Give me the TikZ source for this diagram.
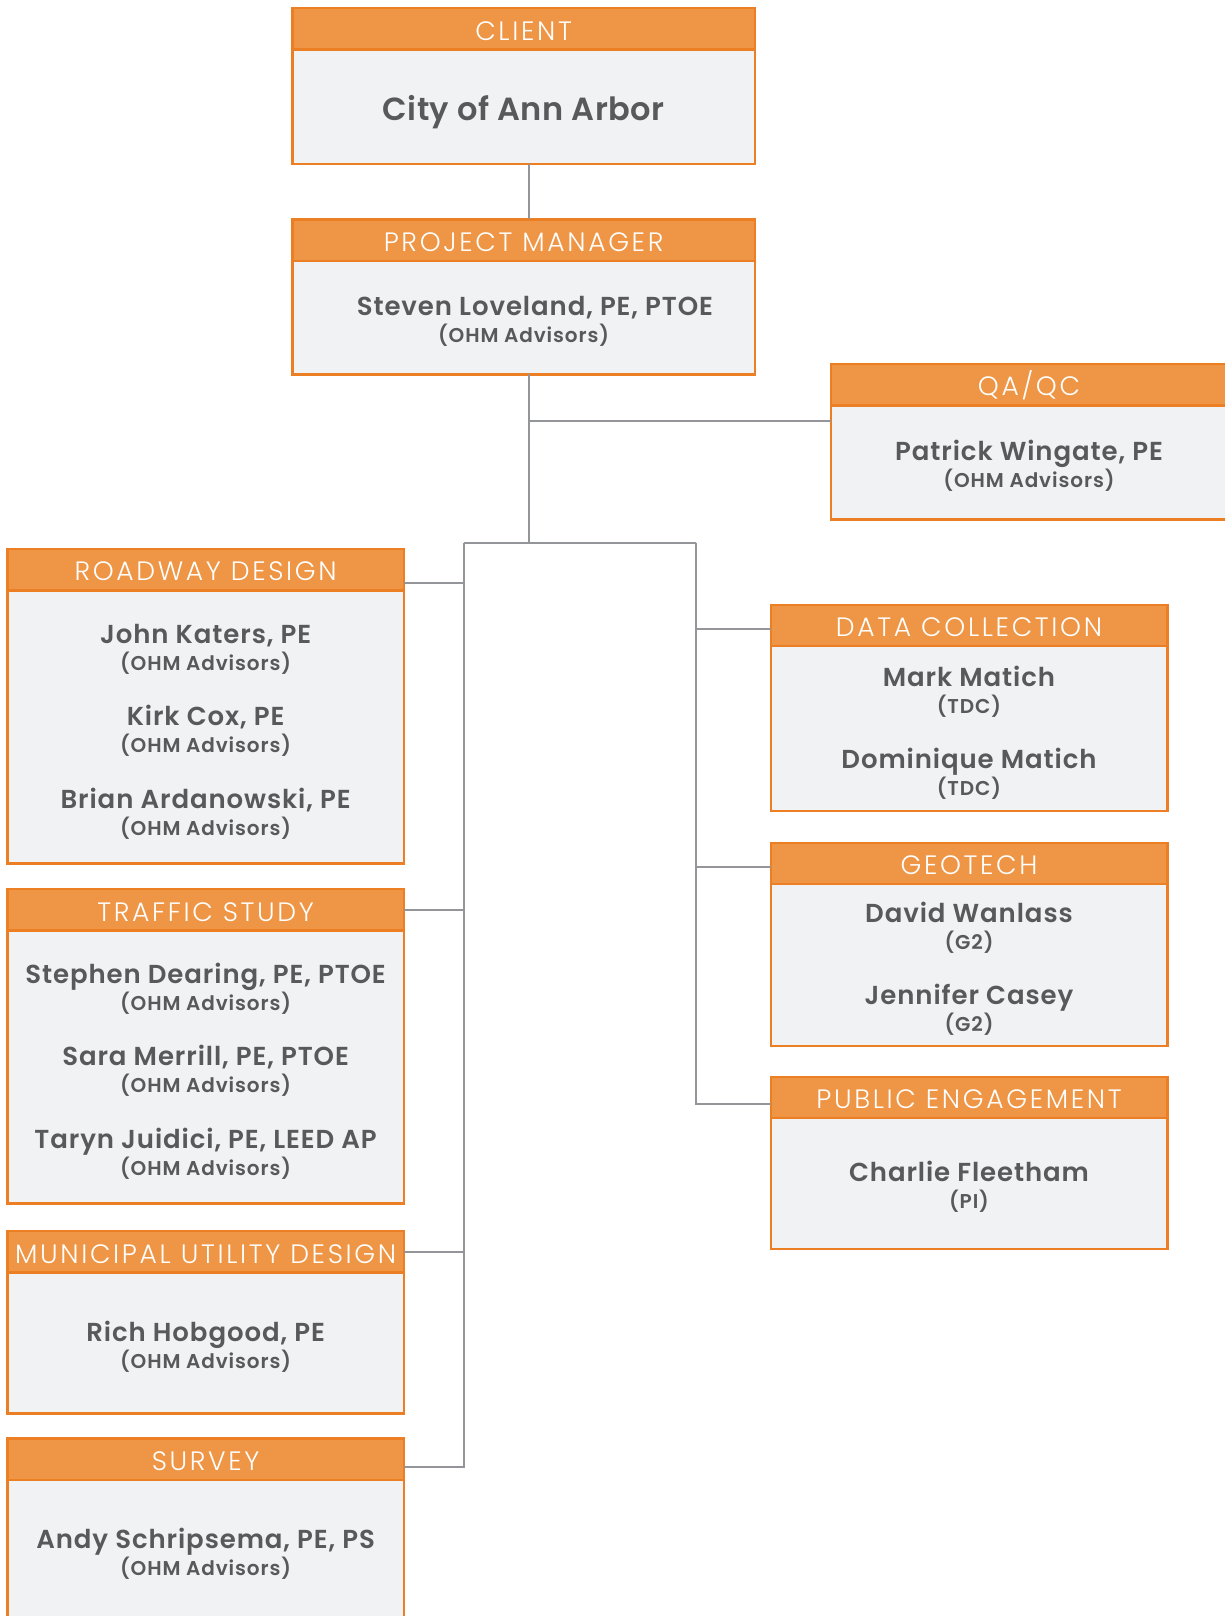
\documentclass[tikz,border=0pt]{standalone}
\usepackage{fontspec}
\setmainfont{Poppins}[BoldFont={Poppins Medium}]
\newfontfamily\headfont{Poppins Light}[LetterSpace=10]
\newfontfamily\namefont{Poppins SemiBold}[LetterSpace=3.5]
\newfontfamily\firmfont{Poppins SemiBold}[LetterSpace=4.5]
\newfontfamily\cityfont{Poppins SemiBold}[LetterSpace=1.5]
\usetikzlibrary{positioning}
\usepackage{xcolor}

\definecolor{ohmorange}{HTML}{EE9646}
\definecolor{ohmedge}{HTML}{EC7E23}
\definecolor{ohmpanel}{HTML}{F1F2F4}
\definecolor{ohmtext}{HTML}{58595B}
\definecolor{ohmline}{HTML}{939598}

% one person: name, then firm in brackets
\newcommand{\person}[2]{#1\\{\firmfont\fontsize{10}{13.5}\selectfont(#2)}}

\begin{document}
\begin{tikzpicture}[x=0.5pt, y=-0.5pt,
      headbox/.style={draw=ohmedge, fill=ohmorange, line width=1.2pt,
        inner sep=0pt, outer sep=0pt, minimum height=20.7pt,
        text height=11.1pt, text depth=0pt,
        anchor=north west, text=white,
        font=\headfont\fontsize{13.3}{13.3}\selectfont},
      bodybox/.style={draw=ohmedge, fill=ohmpanel, line width=1.2pt,
        inner sep=0pt, outer sep=0pt},
      staff/.style={inner sep=0pt, align=center, text=ohmtext,
        font=\namefont\fontsize{13}{13.5}\selectfont},
      topw/.style={minimum width=231.3pt},
      colw/.style={minimum width=198.3pt},
      link/.style={draw=ohmline, line width=1pt},
    ]
    \path[use as bounding box, clip] (0,0) rectangle (1225,1616);

    % Client and project manager
    \node[headbox, topw] (clienthead) at (292.3, 8.3) {CLIENT};
    \node[bodybox, topw, minimum height=57pt, below=0pt of clienthead] (client) {};
    \node[staff, text height=14.2pt, text depth=0pt] (clientname) at (client.center)
      {\cityfont\fontsize{16}{18}\selectfont City of Ann Arbor};
    \node[headbox, topw] (pmhead) at (292.3, 219.3) {PROJECT MANAGER};
    \node[bodybox, topw, minimum height=56.8pt, below=0pt of pmhead] (pm) {};
    \node[staff] (pmnames) at ([yshift=-2pt]pm.center)
      {\hspace*{11.3pt}Steven Loveland, PE, PTOE\\{\firmfont\fontsize{10}{13.5}\selectfont(OHM Advisors)}};

    % QA/QC, off to the right
    \node[headbox, minimum width=198pt] (qahead) at (831, 364) {QA/QC};
    \node[bodybox, minimum width=198pt, minimum height=57pt, below=0pt of qahead] (qa) {};
    \node[staff] (qanames) at ([yshift=-1.8pt]qa.center)
      {\person{Patrick Wingate, PE}{OHM Advisors}};

    % Left column
    \node[headbox, colw] (rdhead) at (7.3, 549) {ROADWAY DESIGN};
    \node[bodybox, colw, minimum height=136.5pt, below=0pt of rdhead] (rd) {};
    \node[staff] (rdnames) at ([yshift=-2.4pt]rd.center)
      {\person{John Katers, PE}{OHM Advisors}\\[14.2pt]
       \person{Kirk Cox, PE}{OHM Advisors}\\[14.2pt]
       \person{Brian Ardanowski, PE}{OHM Advisors}};
    \node[headbox, colw] (tshead) at (7.3, 889.2) {TRAFFIC STUDY};
    \node[bodybox, colw, minimum height=136.5pt, below=0pt of tshead] (ts) {};
    \node[staff] (tsnames) at ([yshift=-2pt]ts.center)
      {\person{Stephen Dearing, PE, PTOE}{OHM Advisors}\\[14.2pt]
       \person{Sara Merrill, PE, PTOE}{OHM Advisors}\\[14.2pt]
       \person{Taryn Juidici, PE, LEED AP}{OHM Advisors}};
    \node[headbox, colw] (muhead) at (7.3, 1231.2) {MUNICIPAL UTILITY DESIGN};
    \node[bodybox, colw, minimum height=70.5pt, below=0pt of muhead] (mu) {};
    \node[staff] (munames) at ([yshift=-2pt]mu.center)
      {\person{Rich Hobgood, PE}{OHM Advisors}};
    \node[headbox, colw] (svhead) at (7.3, 1438.3) {SURVEY};
    \node[bodybox, colw, minimum height=70.5pt, below=0pt of svhead] (sv) {};
    \node[staff] (svnames) at ([yshift=-2pt]sv.center)
      {\person{Andy Schripsema, PE, PS}{OHM Advisors}};

    % Right column
    \node[headbox, colw] (dchead) at (770.7, 604.8) {DATA COLLECTION};
    \node[bodybox, colw, minimum height=82.4pt, below=0pt of dchead] (dc) {};
    \node[staff] (dcnames) at ([yshift=-2pt]dc.center)
      {\person{Mark Matich}{TDC}\\[14.2pt]
       \person{Dominique Matich}{TDC}};
    \node[headbox, colw] (gthead) at (770.7, 842.8) {GEOTECH};
    \node[bodybox, colw, minimum height=80.9pt, below=0pt of gthead] (gt) {};
    \node[staff] (gtnames) at ([yshift=-1.8pt]gt.center)
      {\person{David Wanlass}{G2}\\[14.2pt]
       \person{Jennifer Casey}{G2}};
    \node[headbox, colw] (pehead) at (770.7, 1076.7) {PUBLIC ENGAGEMENT};
    \node[bodybox, colw, minimum height=65.4pt, below=0pt of pehead] (pe) {};
    \node[staff] (penames) at ([yshift=-1.8pt]pe.center)
      {\person{Charlie Fleetham}{PI}};

    % Connectors
    \coordinate (spine) at (529.3, 542.7);
    \coordinate (qatap) at (529.3, 421.3);
    \coordinate (lbus) at (463.5, 542.7);
    \coordinate (rbus) at (695.7, 542.7);
    \draw[link] (client.south -| spine) -- (pmhead.north -| spine);
    \draw[link] (pm.south -| spine) -- (spine);
    \draw[link] (qatap) -- (qatap -| qa.west);
    \draw[link] (lbus) -- (rbus);
    \draw[link] (lbus) |- ([yshift=-6.8pt]rdhead.east);
    \draw[link] (lbus) |- (tshead.east);
    \draw[link] (lbus) |- (muhead.east);
    \draw[link] (lbus) |- ([yshift=-4pt]svhead.east);
    \draw[link] (rbus) |- ([yshift=-1.5pt]dchead.west);
    \draw[link] (rbus) |- ([yshift=-1.5pt]gthead.west);
    \draw[link] (rbus) |- ([yshift=-3.5pt]pehead.west);
  \end{tikzpicture}
\end{document}
